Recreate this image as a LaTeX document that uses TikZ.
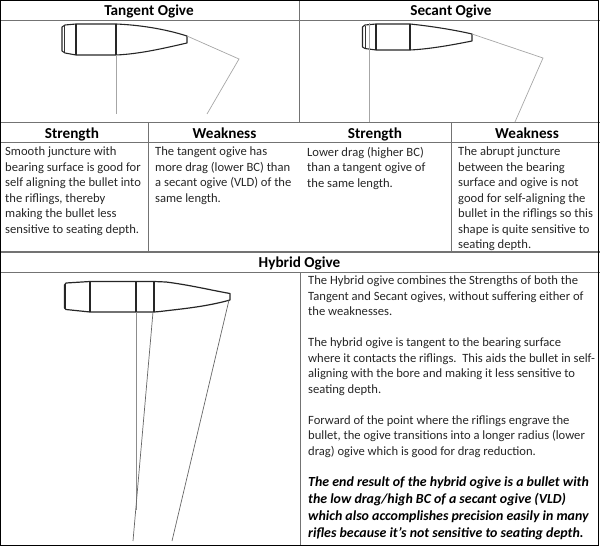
\documentclass[tikz,border=0pt]{standalone}
\usepackage{fontspec}
\setmainfont{Carlito}
\tikzset{
  x=1pt,y=-1pt,
  grid/.style={draw=black!55,line width=1pt},
  frame/.style={draw=black,line width=1pt},
  head/.style={font=\fontsize{15.2}{16}\selectfont\bfseries,inner sep=0pt,text=black,anchor=base},
  body/.style={font=\fontsize{12.6}{15.5}\selectfont,inner sep=0pt,anchor=north west,align=left,text=black!85},
  boldbody/.style={font=\fontsize{13.9}{17}\selectfont\bfseries\itshape,inner sep=0pt,anchor=north west,align=left,text=black},
  shell/.style={draw=black!85,line width=1.1pt,line join=round},
  thinshell/.style={draw=black!80,line width=.7pt},
  guide/.style={draw=black!35,line width=.7pt},
  guideb/.style={draw=black!60,line width=.7pt},
}
\begin{document}
\begin{tikzpicture}
\useasboundingbox (0,0) rectangle (600,546);
% table rules
\draw[grid] (0,20.5) -- (600,20.5);
\draw[grid] (0,122.5) -- (600,122.5);
\draw[grid] (0,142.5) -- (600,142.5);
\draw[grid,line width=1.4pt] (0,252) -- (600,252);
\draw[grid] (0,272.5) -- (600,272.5);
\draw[grid] (299.5,0) -- (299.5,122);
\draw[grid] (148.5,122) -- (148.5,252);
\draw[grid] (451.5,122) -- (451.5,252);
\draw[grid] (300.5,272) -- (300.5,545);
\draw[frame] (.5,.5) rectangle (598.5,545.5);
% headings
\node[head] (h1) at (149,15.5) {Tangent Ogive};
\node[head] (h2) at (451,15.5) {Secant Ogive};
\node[head] (h3) at (72,138) {Strength};
\node[head] (h4) at (224.5,138) {Weakness};
\node[head] (h5) at (375,138) {Strength};
\node[head] (h6) at (527,138) {Weakness};
\node[head] (h7) at (299.5,267) {Hybrid Ogive};
% table text
\node[body] (t1) at (5,147) {Smooth juncture with\\bearing surface is good for\\self aligning the bullet into\\the riflings, thereby\\making the bullet less\\sensitive to seating depth.};
\node[body] (t2) at (155,147) {The tangent ogive has\\more drag (lower BC) than\\a secant ogive (VLD) of the\\same length.};
\node[body] (t3) at (307,147) {Lower drag (higher BC)\\than a tangent ogive of\\the same length.};
\node[body] (t4) at (458,147) {The abrupt juncture\\between the bearing\\surface and ogive is not\\good for self-aligning the\\bullet in the riflings so this\\shape is quite sensitive to\\seating depth.};
\node[body] (t5) at (308,276) {The Hybrid ogive combines the Strengths of both the\\Tangent and Secant ogives, without suffering either of\\the weaknesses.\\[15.5pt]The hybrid ogive is tangent to the bearing surface\\where it contacts the riflings.\ \ This aids the bullet in self-\\aligning with the bore and making it less sensitive to\\seating depth.\\[15.5pt]Forward of the point where the riflings engrave the\\bullet, the ogive transitions into a longer radius (lower\\drag) ogive which is good for drag reduction.};
\node[boldbody] (t6) at (308,477) {The end result of the hybrid ogive is a bullet with\\the low drag/high BC of a secant ogive (VLD)\\which also accomplishes precision easily in many\\rifles because it’s not sensitive to seating depth.};
% tangent bullet
\draw[shell] (62,51) -- (62,27) -- (65,25) -- (76,24) -- (116,24) .. controls (140,25) and (165,29) .. (187,36) -- (187,43) .. controls (165,48) and (140,54) .. (116,55) -- (76,55) -- (65,53) -- cycle;
\draw[shell] (76,24) -- (76,55) (116,24) -- (116,55);
\draw[thinshell] (64.5,26) -- (64.5,52);
\draw[guide] (116,55) -- (116,114);
\draw[guide] (187,36) -- (239,59) -- (207,114);
% secant bullet
\draw[shell] (362.5,47) -- (362.5,27) -- (365,25) -- (376,24) -- (410,24) .. controls (430,26) and (455,30) .. (472,34) -- (472,41) .. controls (452,45) and (430,49) .. (410,50) -- (376,50) -- (365,48.5) -- cycle;
\draw[shell] (376,24) -- (376,50) (410,24) -- (410,50);
\draw[thinshell] (365,25.5) -- (365,48);
\draw[guide] (369,23) -- (369,122);
\draw[guide] (472,34) -- (543,58) -- (515,122);
% hybrid bullet
\draw[shell,line width=1.2pt] (64.5,308) -- (64.5,285) -- (66,283) -- (90,281.5) -- (154,281.5) -- (166,282) .. controls (190,285) and (210,290) .. (230,293.5) -- (230,300) .. controls (205,307) and (180,309) .. (160,311.5) -- (154,312) -- (90,312) -- (66,309.5) -- cycle;
\draw[shell,line width=1.2pt] (90,281.5) -- (90,312) (136,281.5) -- (136,312) (154,281.5) -- (154,312);
\draw[shell,line width=1.6pt] (65.5,284) -- (65.5,309);
\draw[guide,draw=black!45] (136,312) -- (136,510);
\draw[guideb] (153,312) -- (133,541);
\draw[guideb] (229,300) -- (172,541);
\end{tikzpicture}
\end{document}
